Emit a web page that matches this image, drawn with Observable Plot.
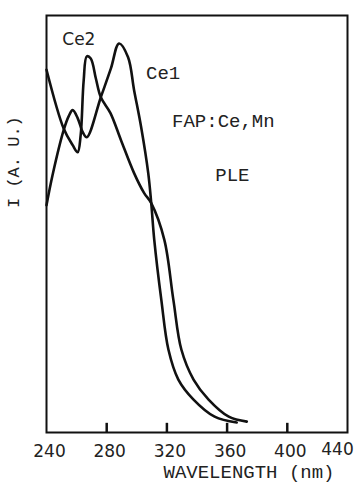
<!DOCTYPE html>
<html>
<head>
<meta charset="utf-8">
<script src="https://cdn.jsdelivr.net/npm/d3@7"></script>
<script src="https://cdn.jsdelivr.net/npm/@observablehq/plot@0.6"></script>
<style>
  html, body { margin: 0; padding: 0; background: #fff; }
  #chart svg { display: block; }
</style>
</head>
<body>
<div id="chart"></div>
<script>
// Wavelength (nm) and intensity (arb. units, 0-100)
const ce2Wavelength = [240, 251.4, 257.4, 260.7, 262.7, 264.7, 266.8, 269.4, 272.8, 276.1, 282.5, 289.5, 298.2, 304.9, 309.6, 318.3, 324.3, 329.6, 337.7, 347.7, 361.1, 373.1];
const ce2Intensity  = [87, 72.9, 68.9, 67.2, 71.3, 84.4, 90.2, 89.7, 84.9, 80.4, 76.6, 70.1, 62.2, 57.4, 55.0, 46.2, 31.8, 19.9, 12.7, 7.9, 3.8, 2.6];

const ce1Wavelength = [240, 244, 251.4, 254.7, 257.4, 260.7, 264.1, 266.8, 276.1, 282.8, 288.2, 294.2, 298.2, 302.9, 307.6, 309.6, 311.6, 316.3, 321, 327.6, 337.7, 351.7, 366.4];
const ce1Intensity  = [54.5, 61.7, 72.5, 75.8, 77.3, 75.4, 72, 70.8, 80.4, 87.3, 93.3, 90, 82.1, 73.2, 62.2, 55.0, 46.2, 31.8, 19.9, 12.7, 7.9, 3.8, 2.4];

const xTicks = [240, 280, 320, 360, 400];
const xTickLast = [440];
const innerTicks = [280, 320, 360, 400];

const labelText = ["Ce2", "Ce1", "FAP:Ce,Mn", "PLE"];
const labelWavelength = [261.5, 317.5, 357.5, 363.5];
const labelIntensity = [94.3, 86.3, 74.8, 61.8];

const ce2 = ce2Wavelength.map((w, i) => ({w, v: ce2Intensity[i]}));
const ce1 = ce1Wavelength.map((w, i) => ({w, v: ce1Intensity[i]}));
const labels = labelText.map((t, i) => ({t, w: labelWavelength[i], v: labelIntensity[i]}));

const mono = "'Liberation Mono', 'DejaVu Sans Mono', monospace";
const sans = "'DejaVu Sans', sans-serif";

const chart = Plot.plot({
  width: 361,
  height: 488,
  marginLeft: 46,
  marginRight: 14,
  marginTop: 15,
  marginBottom: 56,
  style: {background: "#fff", color: "#222"},
  x: {domain: [240, 440]},
  y: {domain: [0, 100], axis: null},
  marks: [
    Plot.frame({stroke: "#111", strokeWidth: 2}),
    Plot.ruleX(innerTicks, {y1: 0, y2: 2.2, stroke: "#111", strokeWidth: 2.5}),
    Plot.axisX({ticks: xTicks, tickSize: 0, tickPadding: 12, fontSize: 17, fontFamily: sans, label: null, dx: 3, fill: "#222"}),
    Plot.axisX({ticks: xTickLast, tickSize: 0, tickPadding: 10, fontSize: 17, fontFamily: sans, label: null, dx: -10, fill: "#222"}),
    Plot.line(ce2, {x: "w", y: "v", curve: "catmull-rom", stroke: "#111", strokeWidth: 2.6}),
    Plot.line(ce1, {x: "w", y: "v", curve: "catmull-rom", stroke: "#111", strokeWidth: 2.6}),
    Plot.text(labels.slice(0, 1), {x: "w", y: "v", text: "t", fontSize: 17, fontFamily: sans, fill: "#222"}),
    Plot.text(labels.slice(1), {x: "w", y: "v", text: "t", fontSize: 19, fontFamily: mono, fill: "#222"}),
    Plot.text(["WAVELENGTH (nm)"], {frameAnchor: "bottom", text: d => d, dx: 52, dy: 45, fontSize: 19, fontFamily: mono, fill: "#222"}),
    Plot.text(["I (A. U.)"], {frameAnchor: "left", text: d => d, rotate: -90, dx: -33, dy: -16, fontSize: 17, fontFamily: mono, fill: "#222"})
  ]
});
document.getElementById("chart").appendChild(chart);
</script>
</body>
</html>
